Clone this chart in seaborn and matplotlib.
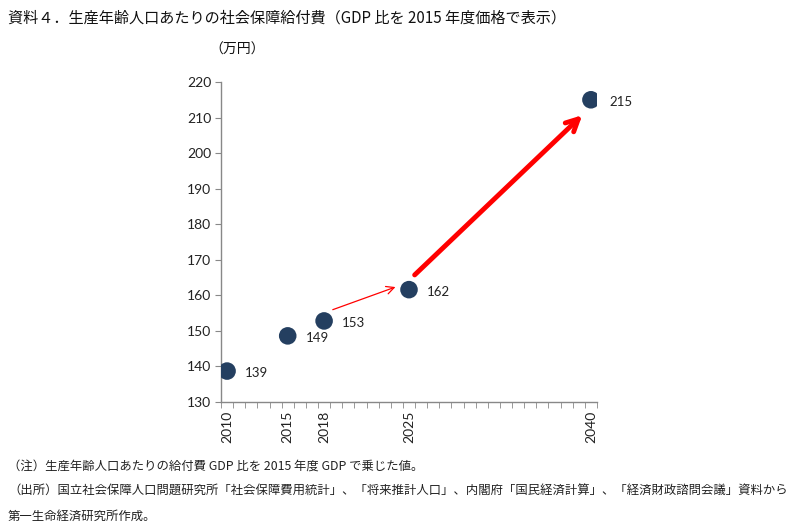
import matplotlib
matplotlib.use("Agg")
import matplotlib.pyplot as plt
import seaborn as sns
import pandas as pd
import numpy as np

years = [2010, 2015, 2018, 2025, 2040]
values = [138.7, 148.6, 152.8, 161.6, 215.0]
labels = ['139', '149', '153', '162', '215']

title = '資料４．生産年齢人口あたりの社会保障給付費（GDP 比を 2015 年度価格で表示）'
unit = '（万円）'
notes = ['（注）生産年齢人口あたりの給付費 GDP 比を 2015 年度 GDP で乗じた値。',
         '（出所）国立社会保障人口問題研究所「社会保障費用統計」、「将来推計人口」、内閣府「国民経済計算」、「経済財政諮問会議」資料から',
         '第一生命経済研究所作成。']

df = pd.DataFrame({'year': years, 'value': values})

sns.set_style("white")
plt.rcParams['font.family'] = ['Noto Sans CJK JP', 'DejaVu Sans']

fig = plt.figure(figsize=(7.99, 5.32), dpi=100)
ax = fig.add_axes([221/799, 1 - 402/532, (597-221)/799, (402-82)/532])

sns.scatterplot(data=df, x='year', y='value', ax=ax, color='#243F60',
                s=160, edgecolor='none', zorder=3, legend=False)

for x, y, t in zip(years, values, labels):
    ax.annotate(t, (x, y), xytext=(13, -1.5), textcoords='offset points',
                ha='left', va='center', fontsize=9.5, family=['Lato', 'DejaVu Sans'],
                color='#222222')

# 2018 -> 2025 は細い矢印
ax.annotate('', xy=(years[3] - 0.9, values[3] + 1.0), xytext=(years[2] + 0.5, values[2] + 2.9),
            arrowprops=dict(arrowstyle='->', color='red', lw=0.9, mutation_scale=14))
# 2025 -> 2040 は太い矢印
ax.annotate('', xy=(years[4] - 0.55, values[4] - 3.8), xytext=(years[3] + 0.3, values[3] + 3.6),
            arrowprops=dict(arrowstyle='->', color='red', lw=3.5, mutation_scale=22))

ax.set_xlim(2009.5, 2040.5)
ax.set_ylim(130, 220)
ax.set_yticks(np.arange(130, 221, 10))
ax.set_xticks(years)
ax.set_xticks(np.arange(2009.5, 2041, 1), minor=True)
ax.set_xticklabels([str(y) for y in years], rotation=90)
ax.set_xlabel('')
ax.set_ylabel('')

for lab in ax.get_xticklabels() + ax.get_yticklabels():
    lab.set_family(['Lato', 'DejaVu Sans'])
    lab.set_fontsize(10)
    lab.set_color('#222222')

ax.tick_params(axis='x', which='major', length=0, pad=6)
ax.tick_params(axis='x', which='minor', length=4, color='#888888', direction='out')
ax.tick_params(axis='y', which='major', length=4, color='#888888', direction='out', pad=3)
ax.tick_params(bottom=True, left=True, which='both')

sns.despine(ax=ax)
for s in ['left', 'bottom']:
    ax.spines[s].set_color('#888888')
    ax.spines[s].set_linewidth(1.0)

fig.text(8/799, 1 - 18/532, title, fontsize=10.9, va='center', ha='left', color='#111111')
fig.text(237/799, 1 - 50/532, unit, fontsize=10, va='center', ha='center', color='#111111')
for i, n in enumerate(notes):
    fig.text(8/799, 1 - (466 + 25*i)/532, n, fontsize=8.9, va='center', ha='left', color='#222222')

fig.savefig('out.png', dpi=100)
